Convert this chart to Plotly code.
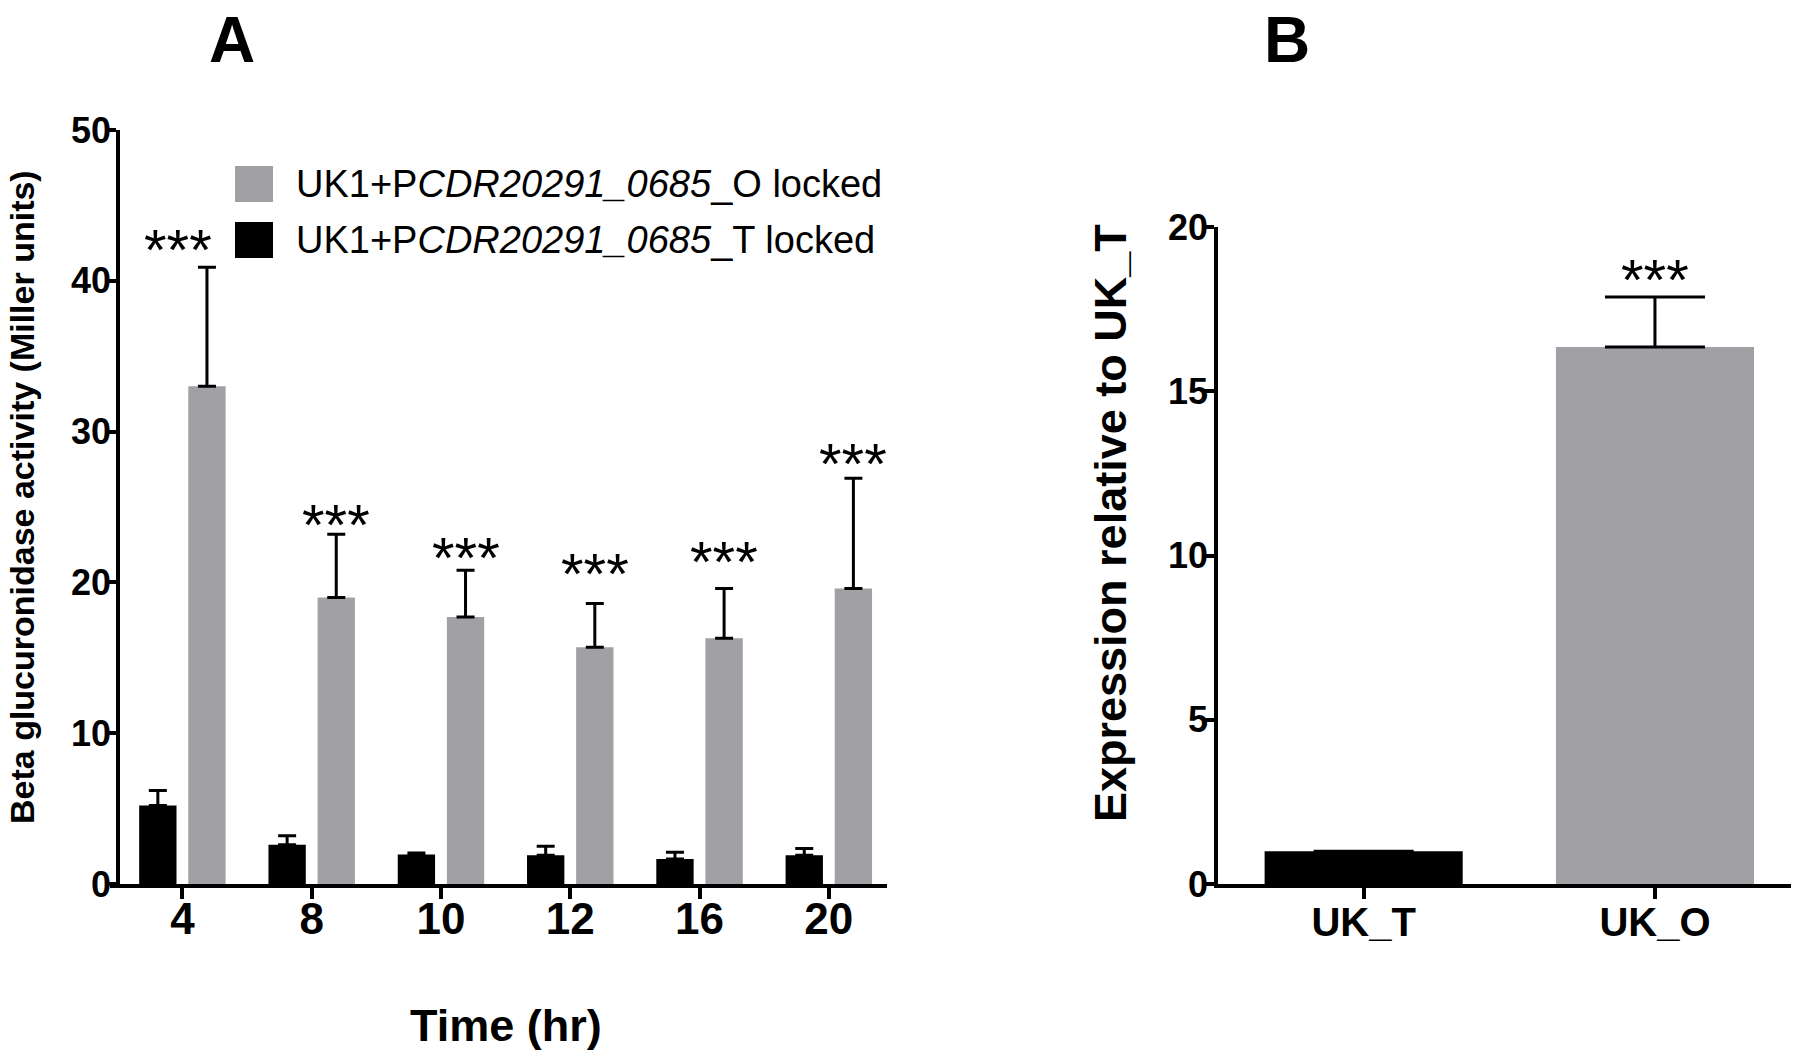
import plotly.graph_objects as go

# ---------------- data ----------------
times = ["4", "8", "10", "12", "16", "20"]
t_locked_mean = [5.2, 2.6, 1.95, 1.9, 1.65, 1.9]
t_locked_sd = [1.0, 0.6, 0.1, 0.6, 0.45, 0.45]
o_locked_mean = [33.0, 19.0, 17.7, 15.7, 16.3, 19.6]
o_locked_sd = [7.9, 4.2, 3.1, 2.9, 3.3, 7.3]
star_a_y = [42.6, 24.4, 22.2, 21.1, 21.9, 28.4]
stars_a = ["***"] * 6

groups_b = ["UK_T", "UK_O"]
expr_mean = [1.0, 16.35]
expr_sd = [0.0, 1.52]
star_b = ["", "***"]
star_b_y = [None, 18.65]

legend_o = "UK1+P<i>CDR20291_0685</i>_O locked"
legend_t = "UK1+P<i>CDR20291_0685</i>_T locked"

# ---------------- style ----------------
BLACK = "#000000"
GRAY = "#a1a0a5"
FONT = "Arial, Liberation Sans, sans-serif"
W, H = 1800, 1056
BARGAP = 0.24
BARGROUPGAP = 0.24
STAR_SIZE = 58
STAR_YSHIFT = -8
star_a_xshift = [-29, 0, 0, 0, 0, 0]   # first label nudged left, as in the original

fig = go.Figure()

fig.add_trace(go.Bar(
    x=times, y=t_locked_mean, name=legend_t,
    marker=dict(color=BLACK, line=dict(width=0)),
    error_y=dict(type="data", array=t_locked_sd, arrayminus=[0] * len(times),
                 symmetric=False, color=BLACK, thickness=3, width=9),
    xaxis="x", yaxis="y", showlegend=False,
))
fig.add_trace(go.Bar(
    x=times, y=o_locked_mean, name=legend_o,
    marker=dict(color=GRAY, line=dict(width=0)),
    error_y=dict(type="data", array=o_locked_sd, arrayminus=[0] * len(times),
                 symmetric=False, color=BLACK, thickness=3, width=9),
    xaxis="x", yaxis="y", showlegend=False,
))
fig.add_trace(go.Bar(
    x=groups_b, y=expr_mean, width=0.68,
    marker=dict(color=[BLACK, GRAY], line=dict(width=0)),
    error_y=dict(type="data", array=expr_sd, arrayminus=[0, 0],
                 symmetric=False, color=BLACK, thickness=3, width=50),
    xaxis="x2", yaxis="y2", showlegend=False,
))

axis_common = dict(
    showline=True, linecolor=BLACK, linewidth=3.5, mirror=False,
    ticks="outside", ticklen=11, tickwidth=3.5, tickcolor=BLACK,
    showgrid=False, zeroline=False, automargin=False,
)


def px2x(px):
    return px / W


def px2y(py):
    return 1 - py / H


fig.update_layout(
    width=W, height=H,
    margin=dict(l=0, r=0, t=0, b=0, autoexpand=False),
    paper_bgcolor="white", plot_bgcolor="white",
    barmode="group", bargap=BARGAP, bargroupgap=BARGROUPGAP,
    font=dict(family=FONT, color=BLACK),
    xaxis=dict(domain=[px2x(110), px2x(887)], range=[-0.56, 5.45],
               type="category", anchor="y", ticklabelstandoff=-18,
               tickfont=dict(family=FONT, size=44, color=BLACK, weight="bold"),
               **axis_common),
    yaxis=dict(domain=[px2y(884), px2y(130)], range=[0, 50], dtick=10,
               anchor="free", position=px2x(118), ticklabelstandoff=-13,
               tickfont=dict(family=FONT, size=36, color=BLACK, weight="bold"),
               **axis_common),
    xaxis2=dict(domain=[px2x(1218), px2x(1791)], range=[-0.5, 1.467],
                type="category", anchor="y2", ticklabelstandoff=-11,
                tickfont=dict(family=FONT, size=40, color=BLACK, weight="bold"),
                **axis_common),
    yaxis2=dict(domain=[px2y(884), px2y(227)], range=[0, 20], dtick=5,
                anchor="x2", ticklabelstandoff=-12,
                tickfont=dict(family=FONT, size=36, color=BLACK, weight="bold"),
                **axis_common),
)

ann = []
# significance stars, panel A (above the grey bars)
gray_offset = (1 - BARGAP) / 4
for i, (s, yv, xs) in enumerate(zip(stars_a, star_a_y, star_a_xshift)):
    ann.append(dict(x=i + gray_offset, y=yv, xref="x", yref="y", text=s,
                    xshift=xs, yshift=STAR_YSHIFT, showarrow=False,
                    xanchor="center", yanchor="middle",
                    font=dict(family=FONT, size=STAR_SIZE, color=BLACK)))
for i, (s, yv) in enumerate(zip(star_b, star_b_y)):
    if s:
        ann.append(dict(x=i, y=yv, xref="x2", yref="y2", text=s,
                        yshift=STAR_YSHIFT, showarrow=False,
                        xanchor="center", yanchor="middle",
                        font=dict(family=FONT, size=STAR_SIZE, color=BLACK)))

# axis titles
ann.append(dict(x=px2x(22), y=px2y(497), xref="paper", yref="paper",
                text="Beta glucuronidase activity (Miller units)", textangle=-90,
                showarrow=False, xanchor="center", yanchor="middle",
                font=dict(family=FONT, size=34, color=BLACK, weight="bold")))
ann.append(dict(x=px2x(506), y=px2y(1025), xref="paper", yref="paper",
                text="Time (hr)", showarrow=False, xanchor="center", yanchor="middle",
                font=dict(family=FONT, size=45, color=BLACK, weight="bold")))
ann.append(dict(x=px2x(1110), y=px2y(523), xref="paper", yref="paper",
                text="Expression relative to UK_T", textangle=-90,
                showarrow=False, xanchor="center", yanchor="middle",
                font=dict(family=FONT, size=45, color=BLACK, weight="bold")))
# panel letters
ann.append(dict(x=px2x(232), y=px2y(40), xref="paper", yref="paper", text="A",
                showarrow=False, xanchor="center", yanchor="middle",
                font=dict(family=FONT, size=64, color=BLACK, weight="bold")))
ann.append(dict(x=px2x(1287), y=px2y(40), xref="paper", yref="paper", text="B",
                showarrow=False, xanchor="center", yanchor="middle",
                font=dict(family=FONT, size=64, color=BLACK, weight="bold")))

# manual legend
shapes = []
legend_rows = [(legend_o, GRAY, 184), (legend_t, BLACK, 240)]
for text, col, cy in legend_rows:
    shapes.append(dict(type="rect", xref="paper", yref="paper",
                       x0=px2x(235), x1=px2x(273), y0=px2y(cy + 18), y1=px2y(cy - 18),
                       fillcolor=col, line=dict(width=0)))
    ann.append(dict(x=px2x(294), y=px2y(cy), xref="paper", yref="paper", text=text,
                    showarrow=False, xanchor="left", yanchor="middle",
                    font=dict(family=FONT, size=38, color=BLACK)))

fig.update_layout(annotations=ann, shapes=shapes)
fig.write_html("out.html", config={"displayModeBar": False},
               post_script="document.body.style.margin='0px';")
